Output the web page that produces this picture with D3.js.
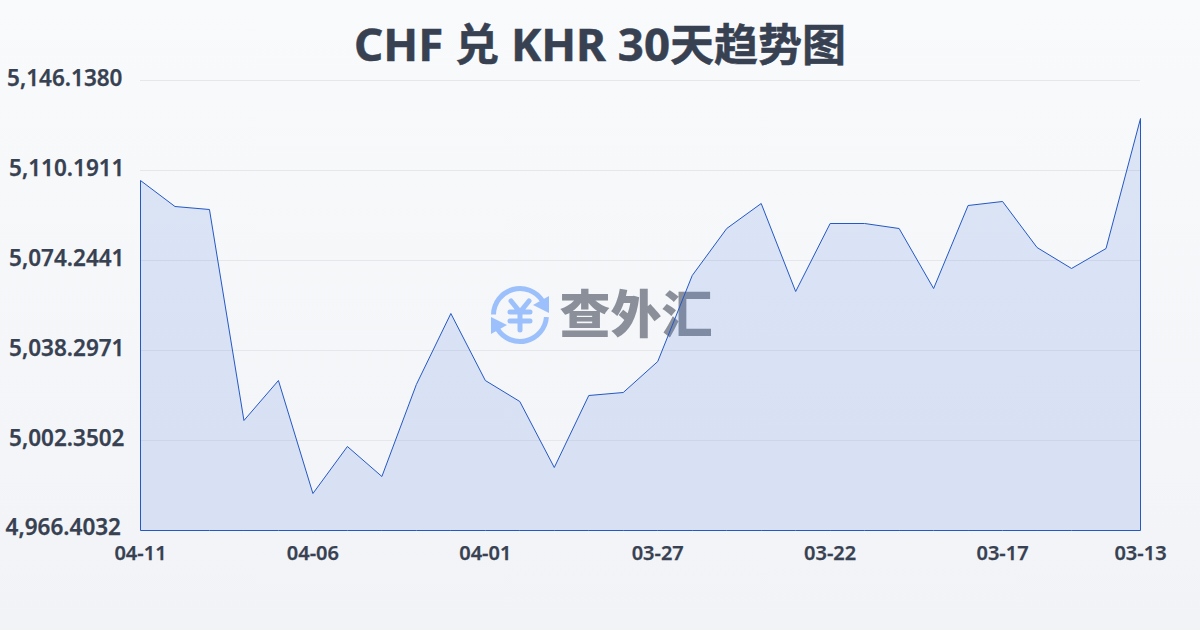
<!DOCTYPE html>
<html><head><meta charset="utf-8">
<script src="https://cdn.jsdelivr.net/npm/d3@7/dist/d3.min.js"></script>
<style>html,body{margin:0;padding:0;width:1200px;height:630px;overflow:hidden}svg{display:block}
text{font-family:"Noto Sans","Noto Sans CJK SC",sans-serif}</style></head><body>
<script>
const titleParts = [["CHF ",45.6],["兑",44],[" KHR 30",45.6],["天趋势图",44]];
const watermarkText = "查外汇";
const dates = ["04-11","04-10","04-09","04-08","04-07","04-06","04-05","04-04","04-03","04-02","04-01","03-31","03-30","03-29","03-28","03-27","03-26","03-25","03-24","03-23","03-22","03-21","03-20","03-19","03-18","03-17","03-16","03-15","03-14","03-13"];
const rates = [5106.19,5095.81,5094.61,5010.34,5026.31,4981.18,4999.95,4987.97,5024.72,5053.07,5026.31,5017.92,4991.56,5020.32,5021.52,5033.90,5068.25,5087.02,5097.01,5061.86,5089.02,5089.02,5087.02,5063.06,5096.21,5097.81,5079.43,5071.05,5079.03,5130.96];
const yTicks = [4966.4032,5002.3502,5038.2971,5074.2441,5110.1911,5146.1380];
const xTickLabels = ["04-11","04-06","04-01","03-27","03-22","03-17","03-13"];

const W=1200,H=630,L=140,R=1140,T=80,B=530;
const svg=d3.select("body").append("svg").attr("width",W).attr("height",H);
const defs=svg.append("defs");
const g=defs.append("linearGradient").attr("id","bg").attr("x1",0).attr("y1",0).attr("x2",0).attr("y2",1);
g.append("stop").attr("offset",0).attr("stop-color","#f8fafc");
g.append("stop").attr("offset",1).attr("stop-color","#f1f3f6");
svg.append("rect").attr("width",W).attr("height",H).attr("fill","url(#bg)");

const x=d3.scalePoint().domain(dates).range([L+.5,R+.5]);
const y=d3.scaleLinear().domain([yTicks[0],yTicks[yTicks.length-1]]).range([B+.5,T+.5]);
const fmt=d3.format(",.4f");

svg.append("g").selectAll("line").data(yTicks).join("line")
 .attr("x1",L).attr("x2",R).attr("y1",d=>y(d)).attr("y2",d=>y(d))
 .attr("stroke","#e5e7eb").attr("stroke-width",1);

svg.append("text").attr("x",600).attr("y",61).attr("text-anchor","middle")
 .attr("font-weight",700).attr("fill","#374151").attr("stroke","#374151").attr("stroke-width",.5)
 .selectAll("tspan").data(titleParts).join("tspan").attr("font-size",d=>d[1]).text(d=>d[0]);

// watermark
const wm=svg.append("g");
const ic=wm.append("g").attr("transform","translate(520,315)").attr("fill","none").attr("stroke","#9cc0fb").attr("stroke-linecap","round");
const arc=d3.arc().innerRadius(26.5).outerRadius(26.5);
ic.append("path").attr("stroke-width",5).attr("d",arc({startAngle:-1.55,endAngle:1.0}));
ic.append("path").attr("stroke-width",5).attr("d",arc({startAngle:1.65,endAngle:4.15}));
ic.append("path").attr("fill","#9cc0fb").attr("stroke","none").attr("d","M29,-2 L29,-19 L13,-10 Z");
ic.append("path").attr("fill","#9cc0fb").attr("stroke","none").attr("d","M-29,2 L-29,19 L-13,10 Z");
ic.append("path").attr("stroke-width",5).attr("d","M-9,-14 L0,-3 L9,-14 M-10,-3 H10 M-10,6 H10 M0,-3 V15");
wm.append("text").attr("x",636).attr("y",333).attr("text-anchor","middle").attr("font-size",51).attr("font-weight",900).attr("fill","#8a8f99").text(watermarkText);

const area=d3.area().x(d=>x(d.date)).y0(B+.5).y1(d=>y(d.value));
const pts=dates.map((date,i)=>({date,value:rates[i]}));
svg.append("path").datum(pts).attr("d",area).attr("fill","#4070e0").attr("fill-opacity",.15)
 .attr("stroke","#2458c4").attr("stroke-width",1).attr("stroke-linejoin","round");

const nudgeX=d=>d===yTicks[0]?-3.5:d===yTicks[5]?-2:0;
const nudgeY=d=>d===yTicks[0]?-2:-1;
svg.append("g").selectAll("text").data(yTicks).join("text")
 .attr("x",d=>124.5+nudgeX(d)).attr("y",d=>y(d)+6.5+nudgeY(d)).attr("text-anchor","end")
 .attr("font-size",22.5).attr("font-weight",600).attr("fill","#374151").attr("stroke","#374151").attr("stroke-width",.25).text(d=>fmt(d));

svg.append("g").selectAll("text").data(xTickLabels).join("text")
 .attr("x",d=>x(d)).attr("y",560).attr("text-anchor","middle")
 .attr("font-size",20).attr("font-weight",600).attr("fill","#374151").attr("stroke","#374151").attr("stroke-width",.25).text(d=>d);
</script></body></html>
